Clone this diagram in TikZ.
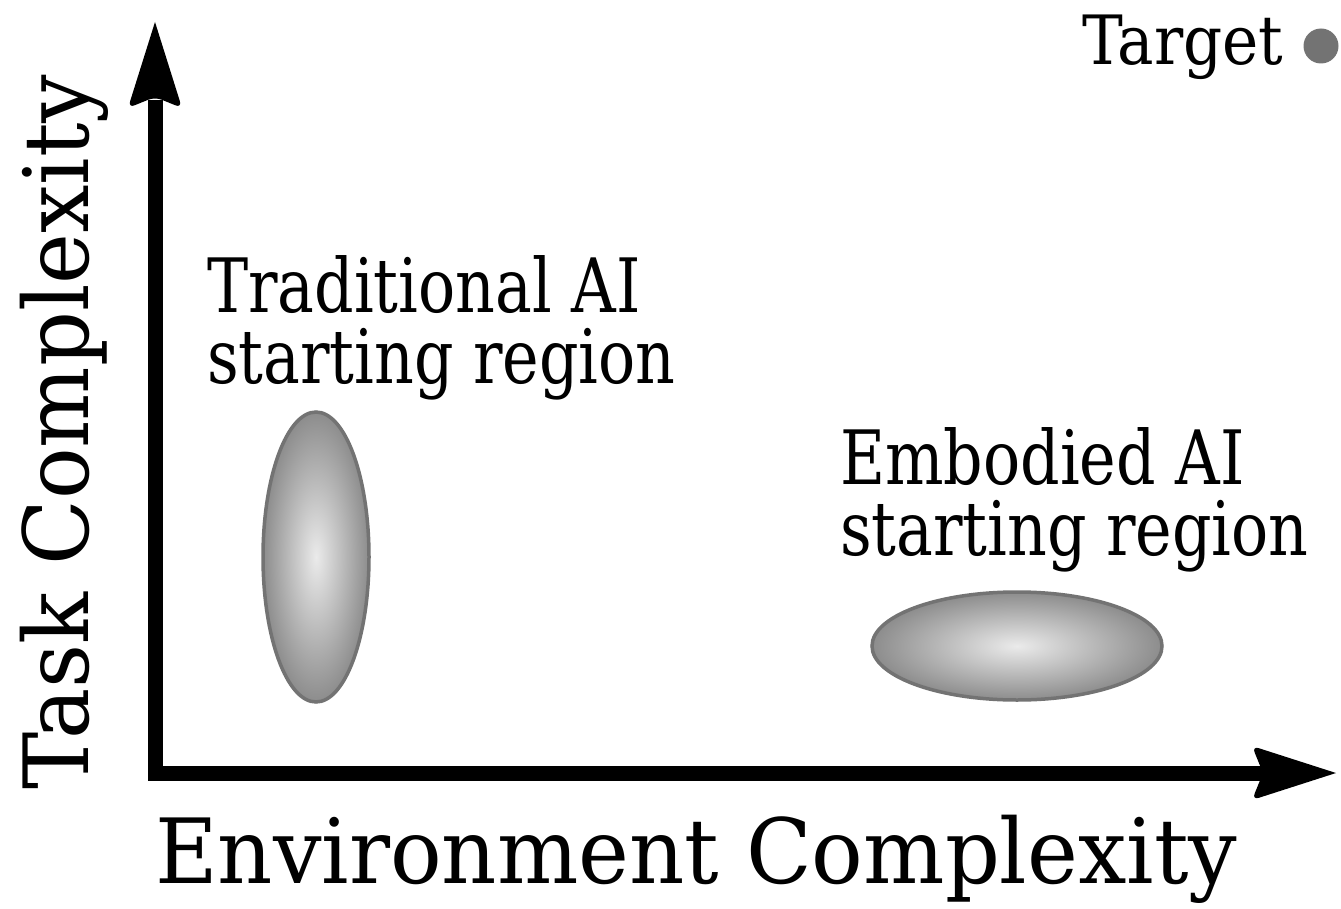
\documentclass[tikz,border=0pt]{standalone}
\usepackage{fontspec}
\setmainfont{DejaVu Serif Condensed}
\newfontfamily\bigfam[FakeStretch=1.06]{DejaVu Serif Condensed}
\newfontfamily\lblfam[FakeStretch=0.915]{DejaVu Serif Condensed}
\usetikzlibrary{shapes.geometric}
\definecolor{edgegray}{gray}{0.45}
\definecolor{ingray}{gray}{0.92}
\definecolor{outgray}{gray}{0.55}
\tikzset{
  axisline/.style={line width=15pt, line join=miter, black},
  headfill/.style={fill=black},
  region/.style={ellipse, draw=edgegray, line width=3.5pt, inner color=ingray, outer color=outgray, inner sep=0pt},
  bigtxt/.style={font=\bigfam\fontsize{90}{90}\selectfont, inner sep=0pt},
  lbltxt/.style={font=\lblfam\fontsize{75}{71}\selectfont, inner sep=0pt, align=left},
  tgttxt/.style={font=\fontsize{68}{68}\selectfont, inner sep=0pt}
}
\begin{document}
\begin{tikzpicture}[x=1pt,y=-1pt]
\useasboundingbox (0,0) rectangle (1341,909);
% axes
\coordinate (o) at (155,773);
\coordinate (ytop) at (155,100);
\coordinate (xend) at (1262,773);
\coordinate (ytip) at (155,22);
\coordinate (xtip) at (1336,773);
\draw[axisline] (ytop) -- (o) -- (xend);
\fill[headfill] (ytip) [rounded corners=7pt] -- (128,108) -- (155,97) -- (182,108) [sharp corners] -- cycle;
\fill[headfill] (xtip) [rounded corners=7pt] -- (1252,746) -- (1263,773) -- (1252,800) [sharp corners] -- cycle;
% regions
\node[region, minimum width=106pt, minimum height=290pt] (trad) at (316,557) {};
\node[region, minimum width=290pt, minimum height=108pt] (emb) at (1017,646) {};
% labels (base = last line)
\node[lbltxt, anchor=base west] (tradlbl) at (207,383) {Traditional AI\\starting region};
\node[lbltxt, anchor=base west] (emblbl) at (840,555) {Embodied AI\\starting region};
\node[bigtxt, anchor=base west] (xlbl) at (155,883) {Environment Complexity};
\node[bigtxt, anchor=base west, rotate=90] (ylbl) at (88,790) {Task Complexity};
\node[tgttxt, anchor=base west] (tgt) at (1082,65) {Target};
\node[circle, fill=edgegray, minimum size=35pt, inner sep=0pt] (tdot) at (1321,46) {};
\end{tikzpicture}
\end{document}
